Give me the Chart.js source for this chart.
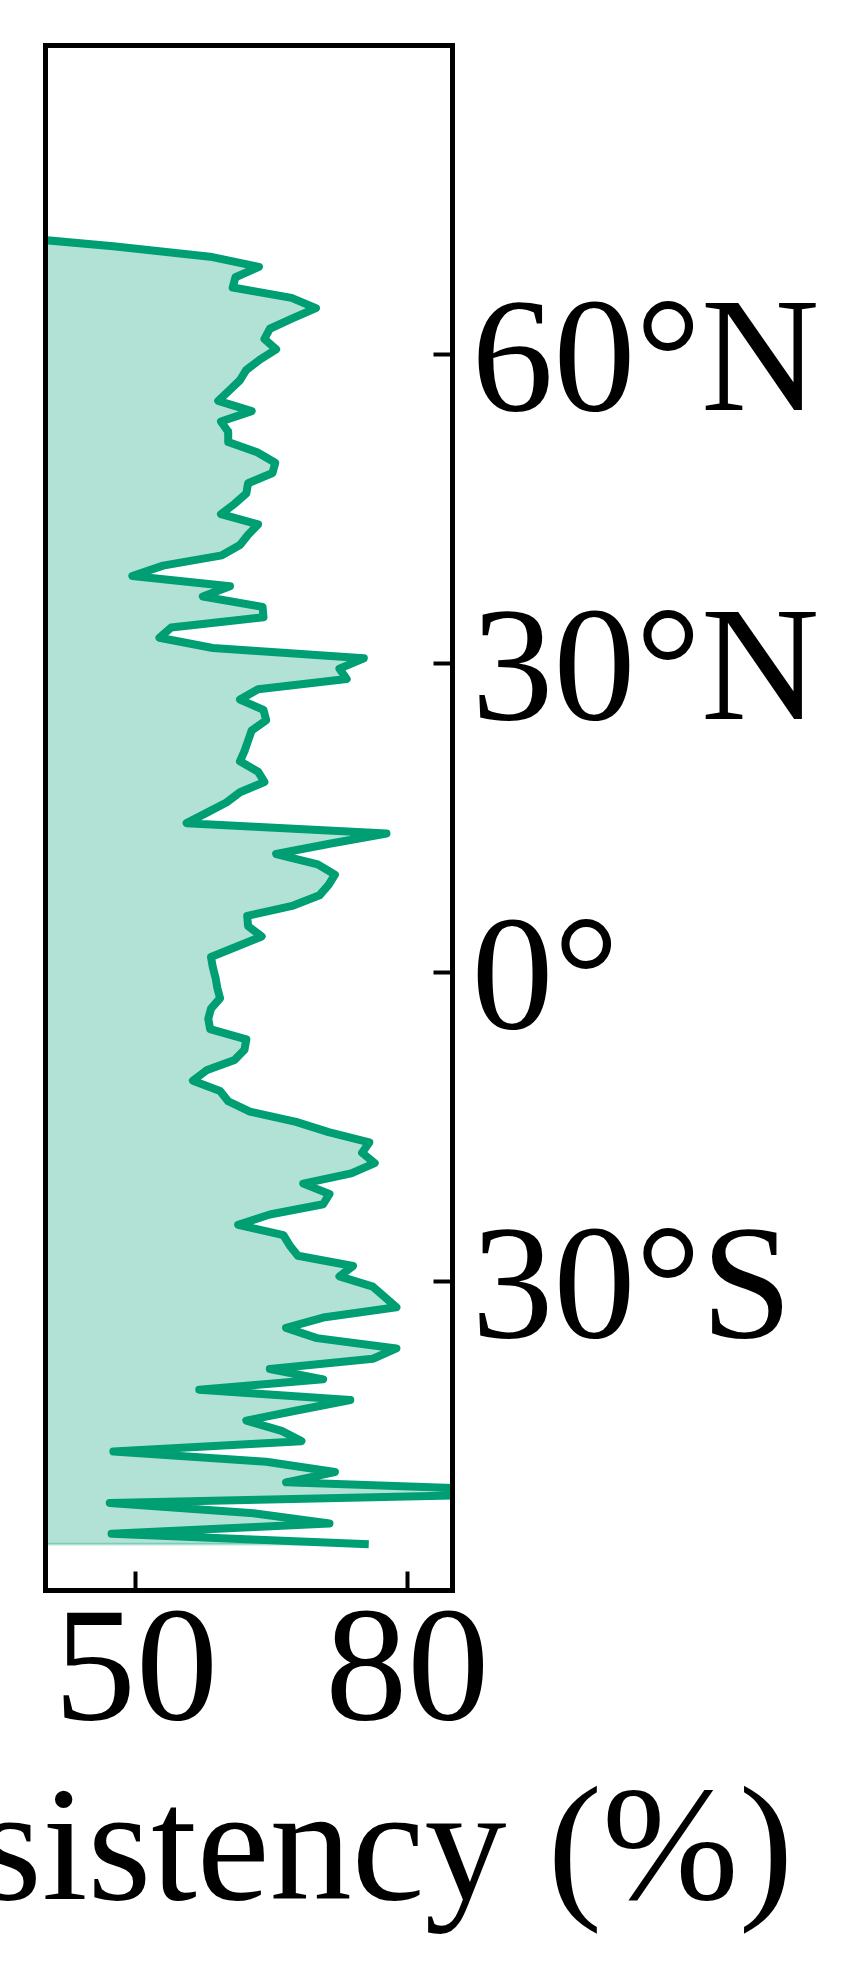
<!DOCTYPE html>
<html>
<head>
<meta charset="utf-8">
<script src="https://cdn.jsdelivr.net/npm/chart.js@4/dist/chart.umd.min.js"></script>
<style>
html, body { margin: 0; padding: 0; background: #ffffff; }
canvas { display: block; }
</style>
</head>
<body>
<canvas id="c" width="863" height="1979"></canvas>
<script>
// ---- data ----
const latitudes = [
  71.5, 70.5, 69.5, 68.5, 67.5, 66.5, 65.5, 64.5, 63.5, 62.5,
  61.5, 60.5, 59.5, 58.5, 57.5, 56.5, 55.5, 54.5, 53.5, 52.5,
  51.5, 50.5, 49.5, 48.5, 47.5, 46.5, 45.5, 44.5, 43.5, 42.5,
  41.5, 40.5, 39.5, 38.5, 37.5, 36.5, 35.5, 34.5, 33.5, 32.5,
  31.5, 30.5, 29.5, 28.5, 27.5, 26.5, 25.5, 24.5, 23.5, 22.5,
  21.5, 20.5, 19.5, 18.5, 17.5, 16.5, 15.5, 14.5, 13.5, 12.5,
  11.5, 10.5, 9.5, 8.5, 7.5, 6.5, 5.5, 4.5, 3.5, 2.5,
  1.5, 0.5, -0.5, -1.5, -2.5, -3.5, -4.5, -5.5, -6.5, -7.5,
  -8.5, -9.5, -10.5, -11.5, -12.5, -13.5, -14.5, -15.5, -16.5, -17.5,
  -18.5, -19.5, -20.5, -21.5, -22.5, -23.5, -24.5, -25.5, -26.5, -27.5,
  -28.5, -29.5, -30.5, -31.5, -32.5, -33.5, -34.5, -35.5, -36.5, -37.5,
  -38.5, -39.5, -40.5, -41.5, -42.5, -43.5, -44.5, -45.5, -46.5, -47.5,
  -48.5, -49.5, -50.5, -51.5, -52.5, -53.5, -54.5, -55.5
];
const consistency = [
  35.0, 47.5, 58.2, 63.6, 61.0, 60.7, 67.2, 69.9, 67.3, 64.8,
  64.2, 65.5, 63.7, 62.2, 61.5, 60.3, 59.1, 62.8, 59.4, 60.2,
  60.2, 63.4, 65.4, 65.1, 62.4, 62.2, 60.9, 59.4, 63.5, 62.4,
  61.5, 59.5, 53.0, 49.6, 60.4, 57.4, 64.0, 64.1, 53.9, 52.6,
  58.5, 75.2, 72.5, 73.3, 63.5, 61.5, 64.1, 64.4, 62.8, 62.4,
  62.0, 61.5, 63.5, 64.2, 61.5, 60.0, 57.8, 55.6, 77.7, 71.4,
  65.5, 70.1, 72.0, 71.3, 70.3, 67.4, 62.3, 62.4, 63.9, 61.1,
  58.3, 58.5, 58.8, 59.0, 59.3, 58.3, 58.0, 58.2, 62.2, 62.0,
  60.9, 57.8, 56.3, 59.3, 60.2, 62.6, 67.7, 71.3, 75.8, 75.0,
  76.4, 73.8, 68.5, 71.4, 70.7, 64.8, 61.3, 66.3, 67.0, 67.9,
  74.0, 72.5, 76.2, 77.5, 78.8, 70.7, 66.6, 70.0, 78.8, 76.2,
  64.8, 70.7, 57.0, 73.7, 67.9, 62.2, 66.1, 68.3, 47.5, 64.4,
  72.0, 66.6, 100.0, 47.1, 63.0, 71.4, 47.3, 75.3
];
const fillBase = 0;
const xMin = 40, xMax = 85;
const yMin = -60, yMax = 90;
const xTickValues = [50, 80];
const yTickValues = [-30, 0, 30, 60];
const yTickLabels = ['30°S', '0°', '30°N', '60°N'];
const xTitle = 'Consistency (%)';

// ---- styling ----
const GREEN = '#009E73';
const GREEN_FILL = 'rgba(0,158,115,0.3)';
const FONT_FAMILY = '"Liberation Serif", "Times New Roman", serif';
const FONT_SIZE = 164;

const n = latitudes.length;
const profile = latitudes.map((lat, i) => ({ x: consistency[i], y: lat }));
const fillEdge = [
  { x: fillBase, y: latitudes[n - 1] },
  { x: consistency[n - 1], y: latitudes[n - 1] }
];

const framePlugin = {
  id: 'frame',
  afterDraw(chart) {
    const { ctx, chartArea: a } = chart;
    ctx.save();
    ctx.strokeStyle = '#000';
    ctx.lineWidth = 5;
    ctx.strokeRect(a.left, a.top, a.right - a.left, a.bottom - a.top);
    ctx.restore();
  }
};

const xTitlePlugin = {
  id: 'xTitle',
  afterDraw(chart) {
    const { ctx, chartArea: a } = chart;
    ctx.save();
    ctx.font = FONT_SIZE + 'px ' + FONT_FAMILY;
    ctx.fillStyle = '#000';
    ctx.textAlign = 'center';
    ctx.textBaseline = 'alphabetic';
    ctx.fillText(xTitle, (a.left + a.right) / 2, a.bottom + 308);
    ctx.restore();
  }
};

new Chart(document.getElementById('c'), {
  type: 'line',
  data: {
    datasets: [
      {
        label: 'Consistency',
        data: profile,
        borderColor: GREEN,
        backgroundColor: GREEN_FILL,
        borderWidth: 8,
        borderJoinStyle: 'round',
        borderCapStyle: 'square',
        fill: { value: fillBase },
        pointRadius: 0,
        tension: 0,
        order: 0
      },
      {
        label: 'fill edge',
        data: fillEdge,
        borderColor: GREEN_FILL,
        borderWidth: 2.8,
        fill: false,
        pointRadius: 0,
        tension: 0,
        order: 1
      }
    ]
  },
  options: {
    indexAxis: 'y',
    responsive: false,
    animation: false,
    devicePixelRatio: 1,
    layout: { padding: { left: 45.5, top: 45.5, right: 0, bottom: 0 } },
    plugins: {
      legend: { display: false },
      tooltip: { enabled: false },
      title: { display: false }
    },
    scales: {
      x: {
        type: 'linear',
        position: 'bottom',
        min: xMin,
        max: xMax,
        border: { display: false },
        grid: {
          display: true,
          drawOnChartArea: false,
          drawTicks: true,
          tickLength: -19,
          tickWidth: 4,
          tickColor: '#000'
        },
        ticks: {
          font: { family: FONT_FAMILY, size: FONT_SIZE },
          color: '#000',
          padding: 6,
          maxRotation: 0,
          minRotation: 0,
          autoSkip: false
        },
        afterBuildTicks: (s) => { s.ticks = xTickValues.map(v => ({ value: v })); },
        afterFit: (s) => { s.height = 388.5; s.paddingLeft = 0; s.paddingRight = 0; }
      },
      y: {
        type: 'linear',
        position: 'right',
        min: yMin,
        max: yMax,
        border: { display: false },
        grid: {
          display: true,
          drawOnChartArea: false,
          drawTicks: true,
          tickLength: -19,
          tickWidth: 4,
          tickColor: '#000'
        },
        ticks: {
          font: { family: FONT_FAMILY, size: FONT_SIZE },
          color: '#000',
          padding: 38,
          labelOffset: 12,
          autoSkip: false,
          callback: (v) => yTickLabels[yTickValues.indexOf(v)]
        },
        afterBuildTicks: (s) => { s.ticks = yTickValues.map(v => ({ value: v })); },
        afterFit: (s) => { s.width = 410.5; s.paddingTop = 0; s.paddingBottom = 0; }
      }
    }
  },
  plugins: [framePlugin, xTitlePlugin]
});
</script>
</body>
</html>
